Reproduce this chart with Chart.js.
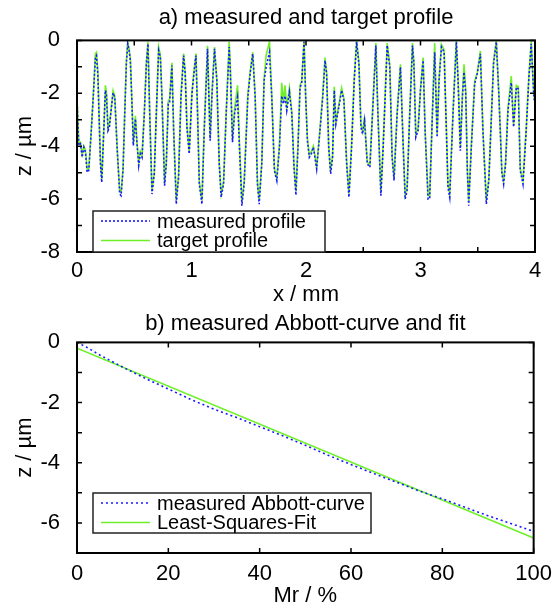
<!DOCTYPE html>
<html>
<head>
<meta charset="utf-8">
<script src="https://cdn.jsdelivr.net/npm/chart.js@4"></script>
<style>
  body { margin: 0; background: #fff; }
  .box { position: absolute; left: 0; width: 560px; }
</style>
</head>
<body>
<div class="box" style="top:0;height:308px"><canvas id="profileChart" width="560" height="308"></canvas></div>
<div class="box" style="top:308px;height:301px"><canvas id="abbottChart" width="560" height="301"></canvas></div>
<script>
// profile positions in mm
const xMm = [
  0.000, 0.016, 0.030, 0.045, 0.060, 0.074, 0.089, 0.103, 0.123, 0.141, 0.161, 0.170, 0.182, 0.193, 0.205, 0.216,
  0.234, 0.248, 0.257, 0.271, 0.283, 0.298, 0.315, 0.330, 0.350, 0.373, 0.385, 0.402, 0.417, 0.431, 0.443, 0.455,
  0.466, 0.478, 0.492, 0.510, 0.524, 0.539, 0.553, 0.568, 0.588, 0.606, 0.620, 0.635, 0.655, 0.675, 0.693, 0.713,
  0.728, 0.742, 0.765, 0.780, 0.797, 0.809, 0.829, 0.844, 0.867, 0.887, 0.908, 0.931, 0.945, 0.960, 0.980, 1.004,
  1.024, 1.039, 1.053, 1.068, 1.091, 1.111, 1.140, 1.152, 1.163, 1.178, 1.201, 1.221, 1.242, 1.259, 1.280, 1.303,
  1.329, 1.338, 1.358, 1.376, 1.402, 1.419, 1.440, 1.460, 1.492, 1.512, 1.535, 1.556, 1.576, 1.591, 1.614, 1.634,
  1.652, 1.681, 1.701, 1.724, 1.745, 1.768, 1.788, 1.803, 1.817, 1.832, 1.855, 1.876, 1.895, 1.912, 1.930, 1.948,
  1.962, 1.983, 1.997, 2.012, 2.029, 2.047, 2.064, 2.078, 2.093, 2.122, 2.146, 2.166, 2.180, 2.198, 2.215, 2.232,
  2.247, 2.261, 2.282, 2.311, 2.331, 2.355, 2.375, 2.398, 2.421, 2.442, 2.462, 2.480, 2.494, 2.511, 2.535, 2.558,
  2.581, 2.610, 2.628, 2.654, 2.674, 2.709, 2.732, 2.752, 2.769, 2.796, 2.825, 2.849, 2.866, 2.883, 2.906, 2.930,
  2.942, 2.959, 2.979, 3.000, 3.023, 3.040, 3.066, 3.080, 3.104, 3.124, 3.145, 3.162, 3.183, 3.206, 3.226, 3.240,
  3.255, 3.284, 3.313, 3.328, 3.348, 3.366, 3.380, 3.395, 3.409, 3.421, 3.444, 3.473, 3.496, 3.523, 3.545, 3.575,
  3.597, 3.638, 3.662, 3.685, 3.711, 3.726, 3.743, 3.764, 3.793, 3.813, 3.837, 3.854, 3.871, 3.895, 3.923, 3.947,
  3.967, 3.990, 4.000
];

// measured profile z in µm
const measuredZ = [
  -2.21, -3.98, -3.91, -4.42, -4.04, -4.23, -4.99, -4.92, -3.54, -2.21, -0.63, -0.57, -1.26, -2.90, -4.67, -5.37,
  -3.41, -1.89, -2.02, -3.41, -3.28, -2.65, -1.99, -2.15, -4.04, -5.81, -5.87, -4.92, -2.78, -0.88, -0.13, -0.38,
  -0.76, -2.15, -3.98, -2.97, -3.91, -4.73, -4.29, -4.42, -2.78, -0.88, -0.13, -2.78, -5.81, -5.05, -2.78, -0.38,
  -0.63, -2.15, -5.49, -4.67, -2.40, -2.34, -0.95, -3.41, -6.19, -5.18, -2.15, -0.57, -1.26, -3.28, -4.29, -2.02,
  -1.14, -0.57, -2.78, -5.43, -6.19, -3.41, -0.32, -2.15, -3.79, -2.15, -0.32, -1.52, -4.67, -5.93, -5.43, -2.78,
  -0.25, -1.01, -3.85, -2.78, -2.15, -4.04, -6.25, -5.43, -2.15, -1.26, -0.51, -2.15, -5.43, -6.19, -4.67, -1.52,
  -1.00, -0.45, -2.15, -4.92, -5.30, -4.04, -2.10, -2.40, -2.10, -2.65, -1.95, -2.78, -4.80, -5.85, -4.04, -1.77,
  -1.64, -0.06, -2.15, -3.79, -4.42, -4.29, -4.04, -4.42, -4.86, -3.41, -2.15, -0.76, -1.26, -4.04, -5.05, -4.42,
  -1.89, -3.16, -2.65, -1.89, -2.27, -4.67, -5.93, -4.04, -1.52, -0.06, -0.88, -3.28, -3.54, -3.03, -4.67, -4.80,
  -2.78, -0.19, -2.78, -5.87, -4.04, -0.19, -1.01, -4.42, -5.30, -2.78, -1.01, -4.04, -6.00, -5.68, -2.78, -0.19,
  -0.88, -3.66, -3.41, -1.89, -0.76, -3.41, -6.00, -6.00, -2.78, -0.45, -3.66, -1.52, -0.25, -0.44, -3.41, -5.56,
  -5.93, -2.78, -0.06, -1.52, -4.17, -2.15, -1.20, -2.02, -4.92, -6.25, -4.04, -1.64, -1.26, -0.51, -3.41, -6.19,
  -5.30, -0.88, -0.06, -2.15, -5.05, -5.43, -4.67, -2.65, -1.60, -3.28, -1.77, -1.83, -4.92, -5.43, -3.41, -1.39,
  -0.13, -2.15, -2.40
];

// target profile z in µm
const targetZ = [
  -2.15, -3.90, -3.85, -4.30, -4.00, -4.15, -4.90, -4.85, -3.50, -2.15, -0.50, -0.45, -1.20, -2.85, -4.60, -5.25,
  -3.35, -1.70, -1.95, -3.35, -3.20, -2.60, -1.90, -2.10, -4.00, -5.70, -5.75, -4.85, -2.70, -0.80, -0.05, -0.30,
  -0.70, -2.10, -3.90, -2.85, -3.85, -4.65, -4.20, -4.35, -2.70, -0.80, -0.05, -2.70, -5.70, -5.00, -2.70, -0.25,
  -0.55, -2.10, -5.40, -4.60, -2.30, -2.20, -0.85, -3.35, -6.05, -5.10, -2.10, -0.50, -1.20, -3.20, -4.20, -1.95,
  -1.05, -0.50, -2.70, -5.35, -6.05, -3.35, -0.20, -2.10, -3.70, -2.05, -0.25, -1.45, -4.60, -5.80, -5.35, -2.70,
  -0.05, -0.85, -3.75, -2.60, -1.70, -3.95, -6.10, -5.35, -2.05, -1.20, -0.45, -2.10, -5.35, -6.05, -4.60, -1.45,
  -0.55, -0.05, -2.05, -4.85, -5.20, -3.95, -1.60, -2.30, -1.70, -2.55, -1.80, -2.70, -4.70, -5.70, -3.95, -1.70,
  -1.55, 0.00, -2.05, -3.70, -4.35, -4.20, -4.00, -4.35, -4.80, -3.35, -2.05, -0.65, -1.20, -3.95, -4.95, -4.35,
  -1.75, -3.10, -2.55, -1.80, -2.20, -4.60, -5.80, -3.95, -1.45, -0.02, -0.80, -3.20, -3.45, -2.90, -4.60, -4.70,
  -2.70, -0.10, -2.70, -5.75, -3.95, -0.10, -0.95, -4.35, -5.20, -2.70, -0.90, -3.95, -5.85, -5.55, -2.70, -0.10,
  -0.80, -3.55, -3.30, -1.80, -0.65, -3.35, -5.85, -5.90, -2.70, -0.10, -3.55, -1.45, -0.15, -0.35, -3.35, -5.45,
  -5.80, -2.70, 0.00, -1.40, -4.05, -2.05, -0.90, -1.85, -4.85, -6.10, -3.95, -1.55, -1.20, -0.40, -3.35, -6.05,
  -5.20, -0.80, 0.00, -2.05, -4.95, -5.30, -4.60, -2.55, -1.35, -3.20, -1.70, -1.75, -4.85, -5.30, -3.35, -1.30,
  -0.05, -2.05, -2.30
];

// Abbott curve: material ratio Mr in %, z in µm
const mrPct = [0, 2, 5, 10, 15, 20, 25, 30, 35, 40, 45, 50, 55, 60, 65, 70, 75, 80, 85, 90, 95, 100];
const abbottZ = [0.0, -0.15, -0.42, -0.82, -1.2, -1.55, -1.9, -2.22, -2.5, -2.8, -3.1, -3.42, -3.75, -4.06, -4.36, -4.65, -4.94, -5.2, -5.48, -5.76, -6.02, -6.28];
const fitMr = [0, 100];
const fitZ = [-0.19, -6.5];

const blue = "#1a1aff";
const green = "rgb(110, 240, 40)";

Chart.defaults.font.family = "'Liberation Sans', Arial, sans-serif";
Chart.defaults.color = "#000";

const toPoints = (xs, ys) => xs.map((x, i) => ({ x: x, y: ys[i] }));

// gnuplot-like frame with ticks pointing inwards on all four sides
const frameTicks = {
  id: "frameTicks",
  afterDatasetsDraw(chart) {
    const { ctx, chartArea: a, scales } = chart;
    const len = 5;
    ctx.save();
    ctx.strokeStyle = "#000";
    ctx.lineWidth = 1.5;
    ctx.beginPath();
    scales.x.ticks.forEach((t) => {
      const px = scales.x.getPixelForValue(t.value);
      ctx.moveTo(px, a.bottom);
      ctx.lineTo(px, a.bottom - len);
      ctx.moveTo(px, a.top);
      ctx.lineTo(px, a.top + len);
    });
    scales.y.ticks.forEach((t) => {
      const py = scales.y.getPixelForValue(t.value);
      ctx.moveTo(a.left, py);
      ctx.lineTo(a.left + len, py);
      ctx.moveTo(a.right, py);
      ctx.lineTo(a.right - len, py);
    });
    ctx.stroke();
    ctx.lineWidth = 2;
    ctx.strokeRect(a.left, a.top, a.right - a.left, a.bottom - a.top);
    ctx.restore();
  },
};

// boxed legend inside the plot, lower left
const boxLegend = {
  id: "boxLegend",
  afterDraw(chart, args, opts) {
    const { ctx, chartArea: a } = chart;
    const top = opts.top;
    const bottom = opts.bottom !== undefined ? opts.bottom : a.bottom;
    ctx.save();
    ctx.fillStyle = "#fff";
    ctx.fillRect(opts.left, top, opts.right - opts.left, bottom - top);
    ctx.strokeStyle = "#222";
    ctx.lineWidth = 1.5;
    ctx.strokeRect(opts.left, top, opts.right - opts.left, bottom - top);
    ctx.font = "20px 'Liberation Sans', Arial, sans-serif";
    ctx.textBaseline = "middle";
    chart.data.datasets.forEach((ds, i) => {
      const y = top + 10 + i * 19.5;
      ctx.strokeStyle = ds.borderColor;
      ctx.lineWidth = ds.borderWidth;
      ctx.setLineDash(ds.borderDash || []);
      ctx.beginPath();
      ctx.moveTo(opts.left + 8, y);
      ctx.lineTo(opts.left + 57, y);
      ctx.stroke();
      ctx.setLineDash([]);
      ctx.fillStyle = "#000";
      ctx.fillText(ds.label, opts.left + 64, y + 1);
    });
    ctx.restore();
  },
};

const axisFont = { size: 22 };

var profileCtx = document.getElementById("profileChart").getContext("2d");
var profileChart = new Chart(profileCtx, {
  type: "line",
  data: {
    datasets: [
      {
        label: "measured profile",
        data: toPoints(xMm, measuredZ),
        borderColor: blue,
        borderWidth: 1.6,
        borderDash: [2, 2],
        pointRadius: 0,
        tension: 0,
        order: 1,
      },
      {
        label: "target profile",
        data: toPoints(xMm, targetZ),
        borderColor: green,
        borderWidth: 1.6,
        pointRadius: 0,
        tension: 0,
        order: 2,
      },
    ],
  },
  options: {
    responsive: false,
    animation: false,
    layout: { padding: { left: 0, right: 25, top: 0, bottom: 0 } },
    plugins: {
      legend: { display: false },
      tooltip: { enabled: false },
      title: {
        display: true,
        fullSize: false,
        text: "a) measured and target profile",
        font: { size: 22, weight: "normal" },
        padding: { top: 5, bottom: 9 },
      },
      boxLegend: { left: 93, right: 325, top: 211 },
    },
    scales: {
      x: {
        type: "linear",
        min: 0,
        max: 4,
        grid: { display: false, drawTicks: false },
        border: { display: false },
        ticks: {
          stepSize: 0.5,
          autoSkip: false,
          maxRotation: 0,
          padding: 6,
          font: axisFont,
          callback: (v) => (Number.isInteger(v) ? v : ""),
        },
        title: { display: true, text: "x / mm", font: axisFont, padding: 0 },
        afterFit: (s) => { s.height = 56; },
      },
      y: {
        min: -8,
        max: 0,
        grid: { display: false, drawTicks: false },
        border: { display: false },
        ticks: {
          stepSize: 1,
          autoSkip: false,
          padding: 17,
          font: axisFont,
          callback: (v) => (v % 2 === 0 ? v : ""),
        },
        title: { display: true, text: "z / µm", font: axisFont, padding: { top: 12, bottom: 0 } },
        afterFit: (s) => { s.width = 77; },
      },
    },
  },
  plugins: [frameTicks, boxLegend],
});

var abbottCtx = document.getElementById("abbottChart").getContext("2d");
var abbottChart = new Chart(abbottCtx, {
  type: "line",
  data: {
    datasets: [
      {
        label: "measured Abbott-curve",
        data: toPoints(mrPct, abbottZ),
        borderColor: blue,
        borderWidth: 1.6,
        borderDash: [2, 3],
        pointRadius: 0,
        tension: 0,
        order: 1,
      },
      {
        label: "Least-Squares-Fit",
        data: toPoints(fitMr, fitZ),
        borderColor: green,
        borderWidth: 1.6,
        pointRadius: 0,
        tension: 0,
        order: 2,
      },
    ],
  },
  options: {
    responsive: false,
    animation: false,
    layout: { padding: { left: 0, right: 25.5, top: 0, bottom: 0 } },
    plugins: {
      legend: { display: false },
      tooltip: { enabled: false },
      title: {
        display: true,
        fullSize: false,
        text: "b) measured Abbott-curve and fit",
        font: { size: 22, weight: "normal" },
        padding: { top: 3, bottom: 5 },
      },
      boxLegend: { left: 93, right: 371, top: 185, bottom: 225 },
    },
    scales: {
      x: {
        type: "linear",
        min: 0,
        max: 100,
        grid: { display: false, drawTicks: false },
        border: { display: false },
        ticks: { stepSize: 20, autoSkip: false, maxRotation: 0, padding: 8, font: axisFont },
        title: { display: true, text: "Mr / %", font: axisFont, padding: 0 },
        afterFit: (s) => { s.height = 56; },
      },
      y: {
        min: -7,
        max: 0,
        grid: { display: false, drawTicks: false },
        border: { display: false },
        ticks: {
          stepSize: 1,
          autoSkip: false,
          padding: 17,
          font: axisFont,
          callback: (v) => (v % 2 === 0 ? v : ""),
        },
        title: { display: true, text: "z / µm", font: axisFont, padding: { top: 12, bottom: 0 } },
        afterFit: (s) => { s.width = 77; },
      },
    },
  },
  plugins: [frameTicks, boxLegend],
});
</script>
</body>
</html>
